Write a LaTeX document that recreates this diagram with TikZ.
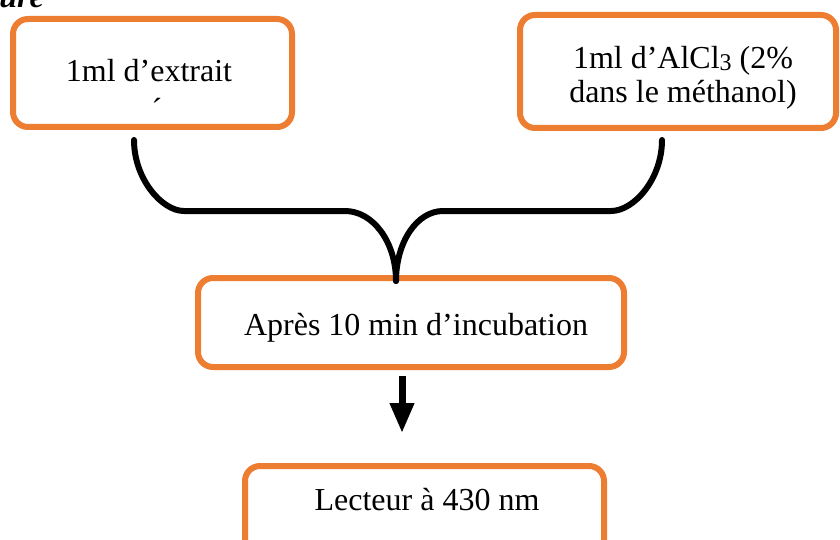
\documentclass[tikz,border=0pt]{standalone}
\usepackage{fontspec}
\setmainfont{Liberation Serif}
\usetikzlibrary{arrows.meta,calc}
\definecolor{boxorange}{HTML}{ED7D31}
\tikzset{
  stepbox/.style={draw=boxorange, line width=6pt, rounded corners=15pt,
    fill=white, inner sep=0pt},
  txt/.style={font=\fontsize{32}{34}\selectfont, inner sep=0pt, align=center},
  brace/.style={line width=6pt, line cap=round, line join=round},
  flow/.style={line width=7pt, -{Triangle[width=23pt,length=30pt]}}
}
\begin{document}
\begin{tikzpicture}[x=1pt,y=-1pt]
\useasboundingbox (0,0) rectangle (840,540);

% caption line cut at the top edge
\node[font=\fontsize{32}{34}\selectfont\bfseries\itshape, inner sep=0pt, anchor=base east]
  (cap) at (44,8) {Figure};

% boxes
\node[stepbox, minimum width=279pt, minimum height=108pt] (b1) at (152.5,73) {};
\node[stepbox, minimum width=316pt, minimum height=113pt] (b2) at (678,71.5) {};
\node[stepbox, minimum width=426pt, minimum height=89pt] (b3) at (411,322.5) {};
\node[stepbox, minimum width=359pt, minimum height=100pt] (b4) at (424.5,516) {};

% texts
\node[txt, anchor=base] (t1) at (149,82) {1ml d’extrait};
\node[txt, anchor=base] (t1m) at (157,121) {´};
\node[txt] (t2) at (683,78) {1ml d’AlCl\raisebox{-2pt}{\fontsize{24}{24}\selectfont 3} (2\%\\dans le méthanol)};
\node[txt, anchor=base] (t3) at (416,335) {Après 10 min d’incubation};
\node[txt, anchor=base] (t4) at (427,510) {Lecteur à 430 nm};

% brace joining the two inputs
\coordinate (j) at ($(b3.north)+(-15,6)$);
\draw[brace] ($(b1.south)+(-18.5,10)$)
  .. controls ($(b1.south)+(-18.5,49)$) and ($(b1.south)+(9.5,81)$) .. ($(b1.south)+(31.5,81)$)
  -- ($(j)+(-51,-70)$)
  .. controls ($(j)+(-23,-70)$) and ($(j)+(0,-39)$) .. (j);
\draw[brace] ($(b2.south)+(-16,9)$)
  .. controls ($(b2.south)+(-16,48)$) and ($(b2.south)+(-44,80)$) .. ($(b2.south)+(-67,80)$)
  -- ($(j)+(47,-70)$)
  .. controls ($(j)+(21,-70)$) and ($(j)+(0,-39)$) .. (j);

% arrow to the reader
\draw[flow] ($(b3.south)+(-9,6)$) -- ($(b4.north)+(-22.5,-30)$);
\end{tikzpicture}
\end{document}
